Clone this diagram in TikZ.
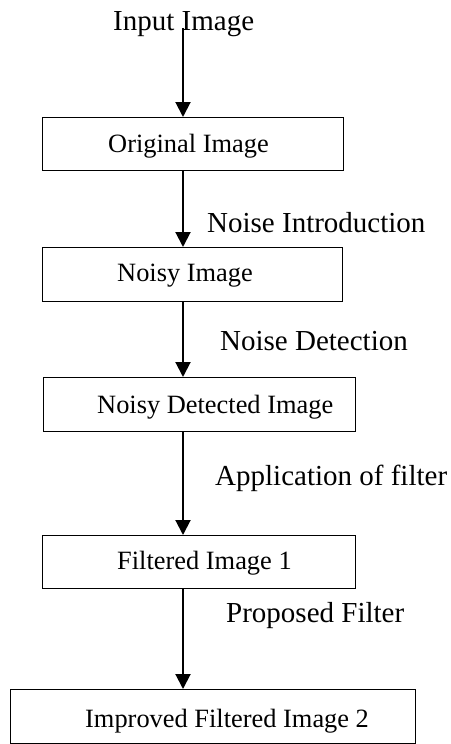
\documentclass[tikz,border=0pt]{standalone}
\usepackage{fontspec}
\setmainfont{Liberation Serif}
\usetikzlibrary{arrows.meta}
\begin{document}
\begin{tikzpicture}[x=1pt,y=-1pt,
 box/.style={draw, line width=1.2pt, inner sep=0pt, anchor=north west},
 boxtext/.style={anchor=base west, inner sep=0pt, font=\fontsize{26.4}{30}\selectfont},
 lbl/.style={anchor=base west, inner sep=0pt, font=\fontsize{29}{34}\selectfont},
 arr/.style={line width=2pt, -{Triangle[length=15pt,width=15pt]}}]
\useasboundingbox (0,0) rectangle (450,744);
% boxes
\node[box, minimum width=301pt, minimum height=53pt] (b1) at (42,117) {};
\node[box, minimum width=300pt, minimum height=54pt] (b2) at (42,247) {};
\node[box, minimum width=312pt, minimum height=54pt] (b3) at (43,377) {};
\node[box, minimum width=313pt, minimum height=53pt] (b4) at (42,535) {};
\node[box, minimum width=405pt, minimum height=54pt] (b5) at (10,689) {};
% box texts
\node[boxtext] (t1) at (108,152) {Original Image};
\node[boxtext] (t2) at (117,281) {Noisy Image};
\node[boxtext] (t3) at (97,413) {Noisy Detected Image};
\node[boxtext] (t4) at (117,569) {Filtered Image 1};
\node[boxtext] (t5) at (85,727) {Improved Filtered Image 2};
% labels
\node[lbl] (l0) at (113,30) {Input Image};
\node[lbl] (l1) at (207,232) {Noise Introduction};
\node[lbl] (l2) at (220,350) {Noise Detection};
\node[lbl] (l3) at (215,485) {Application of filter};
\node[lbl] (l4) at (226,622) {Proposed Filter};
% arrows
\coordinate (top) at (183,28);
\draw[arr] (top) -- (top |- b1.north);
\draw[arr] (b1.south -| top) -- (b2.north -| top);
\draw[arr] (b2.south -| top) -- (b3.north -| top);
\draw[arr] (b3.south -| top) -- (b4.north -| top);
\draw[arr] (b4.south -| top) -- (b5.north -| top);
\end{tikzpicture}
\end{document}
